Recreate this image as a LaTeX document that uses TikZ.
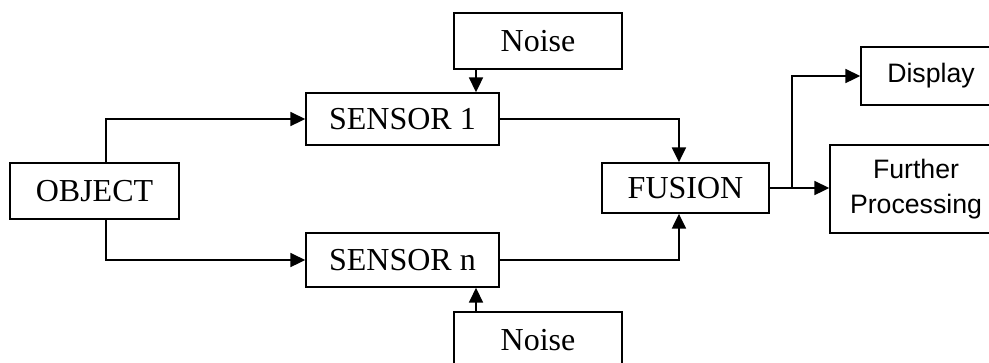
\documentclass[tikz,border=0pt]{standalone}
\usepackage{fontspec}
\setmainfont{Liberation Serif}
\newfontfamily\outfont{Liberation Sans}
\usepackage{tikz}
\usetikzlibrary{arrows.meta}

\begin{document}
\begin{tikzpicture}[x=0.75pt,y=-0.75pt,
  blk/.style={draw,line width=1.3pt,inner sep=0pt,font=\fontsize{24}{28}\selectfont},
  outblk/.style={draw,line width=1.3pt,inner sep=0pt,align=center,font=\outfont\fontsize{20}{26}\selectfont},
  arr/.style={line width=1.3pt,-{Triangle[length=11pt,width=10.5pt]}}]
  \useasboundingbox (0,0) rectangle (989,362);
  % blocks
  \node[blk,minimum width=126.75pt,minimum height=42pt] (obj) at (94.5,191) {OBJECT};
  \node[blk,minimum width=144.75pt,minimum height=39pt] (s1) at (402.5,119) {SENSOR 1};
  \node[blk,minimum width=144.75pt,minimum height=40.5pt] (sn) at (402.5,260) {SENSOR n};
  \node[blk,minimum width=126pt,minimum height=42pt] (n1) at (538,41) {Noise};
  \node[blk,minimum width=126pt,minimum height=42pt] (n2) at (538,340) {Noise};
  \node[blk,minimum width=125.25pt,minimum height=37.5pt] (fu) at (685.5,188) {FUSION};
  \node[outblk,minimum width=105pt,minimum height=43.5pt] (dp) at (931,76) {Display};
  \node[outblk,minimum width=129pt,minimum height=66pt] (fp) at (916,189) {Further\\Processing};
  % connectors
  \coordinate (o1) at ([xshift=8.6pt]obj.north);
  \coordinate (o2) at ([xshift=8.6pt]obj.south);
  \draw[arr] (o1) |- (s1.west);
  \draw[arr] (o2) |- (sn.west);
  \coordinate (z1) at ([xshift=-46.5pt]n1.south);
  \coordinate (z2) at ([xshift=-46.5pt]n2.north);
  \draw[arr] (z1) -- (z1 |- s1.north);
  \draw[arr] (z2) -- (z2 |- sn.south);
  \coordinate (f1) at ([xshift=-4.9pt]fu.north);
  \coordinate (f2) at ([xshift=-4.9pt]fu.south);
  \draw[arr] (s1.east) -| (f1);
  \draw[arr] (sn.east) -| (f2);
  \draw[arr] (fu.east) -- (fu.east -| fp.west);
  \coordinate (br) at ([xshift=16.5pt]fu.east);
  \draw[arr] (br) |- (dp.west);
\end{tikzpicture}
\end{document}
